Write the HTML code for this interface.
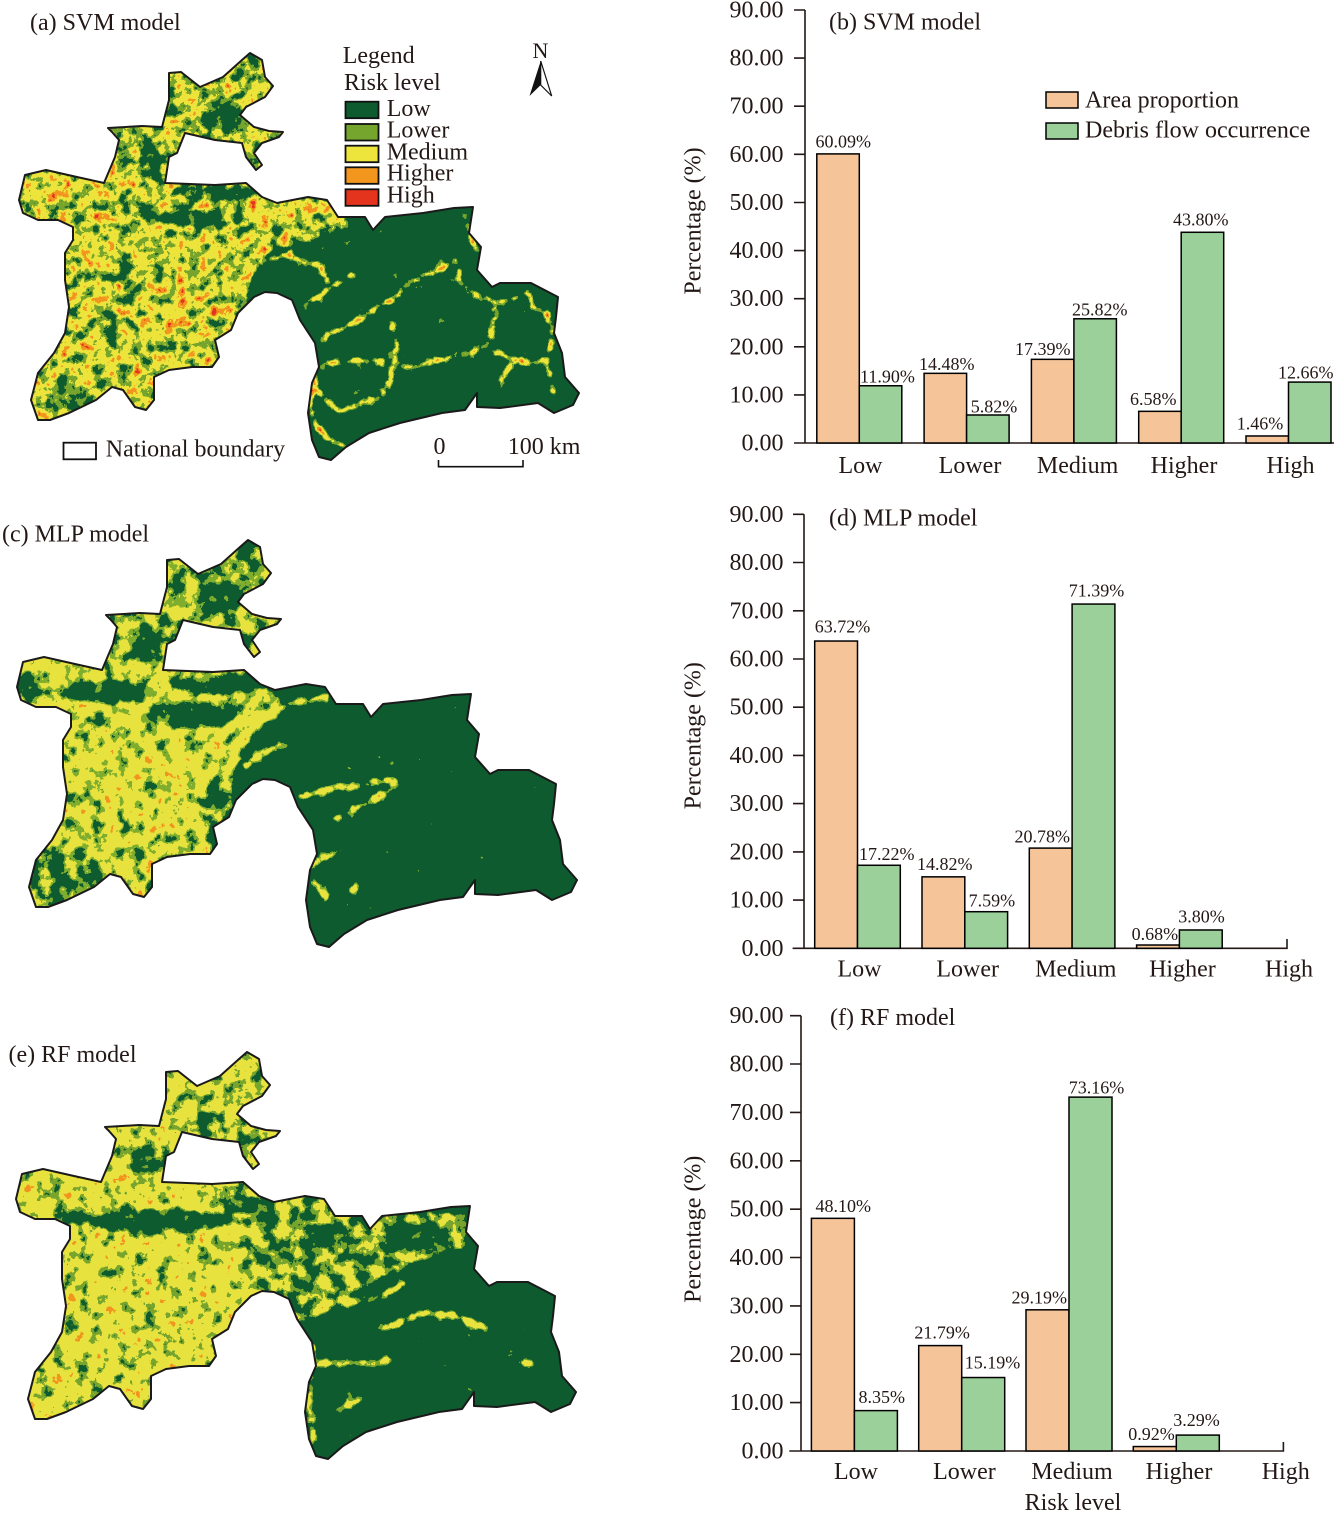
<!DOCTYPE html>
<html><head><meta charset="utf-8">
<style>
html,body{margin:0;padding:0;background:#fff;}
svg{display:block;}
text{font-family:"Liberation Serif","Times New Roman",serif;fill:#231815;}
</style></head>
<body>
<svg width="1334" height="1513" viewBox="0 0 1334 1513" xmlns="http://www.w3.org/2000/svg">
<defs>
<clipPath id="tj"><polygon points="25,175 46,170 77,177 104,183 115,157 119,140 112,132 108,128 142,126 162,127 169,100 169,73 181,72 200,87 223,77 242,60 250,53 262,60 265,77 273,86 265,97 246,107 240,115 254,127 269,131 283,132 279,137 262,143 254,153 262,165 256,170 246,157 242,143 215,140 185,133 177,153 169,157 165,183 215,185 246,183 262,197 277,203 308,197 327,200 338,217 365,217 373,230 385,217 423,213 454,208 473,207 469,233 481,247 477,270 492,287 500,283 531,283 558,297 556,317 554,333 562,353 565,377 579,393 573,405 554,413 538,403 500,408 477,407 477,393 465,410 442,413 400,423 369,433 346,447 331,460 319,457 312,440 308,413 312,383 319,367 315,343 300,320 292,300 277,293 265,292 254,297 238,313 231,330 215,340 219,357 212,367 192,367 169,370 154,377 154,400 146,410 135,407 123,390 112,387 96,400 69,413 50,420 38,420 31,400 38,373 54,353 65,333 69,307 65,280 65,253 73,240 73,227 58,220 38,220 23,213 19,200"/></clipPath>

<filter id="fa" filterUnits="userSpaceOnUse" x="0" y="30" width="600" height="450" color-interpolation-filters="sRGB">
 <feGaussianBlur in="SourceGraphic" stdDeviation="2.5" result="b"/>
 <feTurbulence type="fractalNoise" baseFrequency="0.085" numOctaves="4" seed="4" result="t"/>
 <feColorMatrix in="t" type="matrix" values="1 0 0 0 0 1 0 0 0 0 1 0 0 0 0 0 0 0 0 1" result="n"/>
 <feComposite in="n" in2="b" operator="arithmetic" k1="0" k2="1.2" k3="1" k4="-0.7"/>
 <feComponentTransfer>
  <feFuncR type="discrete" tableValues=".055 .055 .055 .055 .055 .055 .463 .463 .463 .929 .929 .929 .929 .929 .949 .949 .949 .898 .898 .898"/>
  <feFuncG type="discrete" tableValues=".357 .357 .357 .357 .357 .357 .647 .647 .647 .898 .898 .898 .898 .898 .588 .588 .588 .204 .204 .204"/>
  <feFuncB type="discrete" tableValues=".188 .188 .188 .188 .188 .188 .180 .180 .180 .235 .235 .235 .235 .235 .118 .118 .118 .118 .118 .118"/>
  <feFuncA type="discrete" tableValues="1"/>
 </feComponentTransfer>
</filter>
<filter id="fc" filterUnits="userSpaceOnUse" x="0" y="30" width="600" height="450" color-interpolation-filters="sRGB">
 <feGaussianBlur in="SourceGraphic" stdDeviation="2.5" result="b"/>
 <feTurbulence type="fractalNoise" baseFrequency="0.075" numOctaves="4" seed="9" result="t"/>
 <feColorMatrix in="t" type="matrix" values="1 0 0 0 0 1 0 0 0 0 1 0 0 0 0 0 0 0 0 1" result="n"/>
 <feComposite in="n" in2="b" operator="arithmetic" k1="0" k2="1.2" k3="1" k4="-0.7"/>
 <feComponentTransfer>
  <feFuncR type="discrete" tableValues=".055 .055 .055 .055 .055 .055 .50 .50 .50 .91 .91 .91 .91 .91 .91 .91 .91 .949 .949 .949"/>
  <feFuncG type="discrete" tableValues=".357 .357 .357 .357 .357 .357 .68 .68 .68 .89 .89 .89 .89 .89 .89 .89 .89 .588 .588 .588"/>
  <feFuncB type="discrete" tableValues=".188 .188 .188 .188 .188 .188 .18 .18 .18 .25 .25 .25 .25 .25 .25 .25 .25 .118 .118 .118"/>
  <feFuncA type="discrete" tableValues="1"/>
 </feComponentTransfer>
</filter>
<filter id="fe" filterUnits="userSpaceOnUse" x="0" y="30" width="600" height="450" color-interpolation-filters="sRGB">
 <feGaussianBlur in="SourceGraphic" stdDeviation="2.5" result="b"/>
 <feTurbulence type="fractalNoise" baseFrequency="0.075" numOctaves="4" seed="17" result="t"/>
 <feColorMatrix in="t" type="matrix" values="1 0 0 0 0 1 0 0 0 0 1 0 0 0 0 0 0 0 0 1" result="n"/>
 <feComposite in="n" in2="b" operator="arithmetic" k1="0" k2="1.2" k3="1" k4="-0.7"/>
 <feComponentTransfer>
  <feFuncR type="discrete" tableValues=".055 .055 .055 .055 .055 .055 .463 .463 .463 .91 .91 .91 .91 .91 .91 .91 .91 .949 .949 .949"/>
  <feFuncG type="discrete" tableValues=".357 .357 .357 .357 .357 .357 .647 .647 .647 .89 .89 .89 .89 .89 .89 .89 .89 .588 .588 .588"/>
  <feFuncB type="discrete" tableValues=".188 .188 .188 .188 .188 .188 .18 .18 .18 .25 .25 .25 .25 .25 .25 .25 .25 .118 .118 .118"/>
  <feFuncA type="discrete" tableValues="1"/>
 </feComponentTransfer>
</filter>
</defs>

<rect width="1334" height="1513" fill="#fff"/>

<!-- ===== MAP (a) ===== -->
<g>
 <g clip-path="url(#tj)">
  <g filter="url(#fa)">
   <rect x="0" y="30" width="600" height="450" fill="#000"/>
   <polygon points="100,40 295,40 295,190 100,190" fill="rgb(135,135,135)"/>
   <ellipse cx="222" cy="118" rx="18" ry="14" fill="rgb(51,51,51)"/>
   <ellipse cx="150" cy="165" rx="10" ry="20" fill="rgb(64,64,64)"/>
   <polygon points="0,160 110,168 165,183 260,190 300,195 345,205 350,228 300,245 270,250 255,270 248,300 242,330 222,360 200,380 170,440 0,440" fill="rgb(150,150,150)"/>
   <ellipse cx="200" cy="223" rx="50" ry="13" fill="rgb(64,64,64)"/>
   <ellipse cx="140" cy="210" rx="18" ry="8" fill="rgb(77,77,77)"/>
   <ellipse cx="215" cy="193" rx="45" ry="7" fill="rgb(51,51,51)"/>
   <ellipse cx="130" cy="275" rx="9" ry="20" fill="rgb(89,89,89)"/>
   <ellipse cx="110" cy="325" rx="8" ry="12" fill="rgb(89,89,89)"/>
   <ellipse cx="72" cy="395" rx="25" ry="18" fill="rgb(110,110,110)"/>
   <ellipse cx="180" cy="300" rx="35" ry="25" fill="rgb(168,168,168)"/>
   <ellipse cx="62" cy="192" rx="30" ry="12" fill="rgb(163,163,163)"/>
   <g fill="none" stroke="rgb(210,210,210)" stroke-width="4">
    <path d="M150,225 L215,233 L277,213 L335,210"/>
    <path d="M246,273 L269,260 L292,252"/>
    <path d="M303,307 L317,297 L330,287 L347,277 L357,273"/>
   </g>
   <g fill="none" stroke="rgb(199,199,199)" stroke-width="5" stroke-linejoin="round">
    <path d="M280,253 L300,260 L320,267 L330,283"/>
    <path d="M320,340 L337,330 L360,320 L377,307 L393,300 L410,280 L440,270 L457,260"/>
    <path d="M313,373 L330,363 L357,360 L380,363 L397,350 L393,330 L390,318"/>
    <path d="M397,350 L390,380 L380,397 L360,403 L340,413 L320,393 L313,373"/>
    <path d="M397,367 L413,367 L440,360 L467,353 L487,347 L493,327 L497,313 L493,307"/>
    <path d="M457,262 L460,283 L480,297 L497,303 L513,300 L527,290 L533,307 L547,313 L553,337 L547,357 L533,365 L513,360 L487,347"/>
    <path d="M513,360 L503,380 L500,392 M547,360 L550,380 L553,393"/>
    <path d="M313,373 L310,407 L317,427 L330,440 L347,447"/>
    <path d="M465,215 L470,235 L478,250"/>
   </g>
  </g>
 </g>
 <polygon points="25,175 46,170 77,177 104,183 115,157 119,140 112,132 108,128 142,126 162,127 169,100 169,73 181,72 200,87 223,77 242,60 250,53 262,60 265,77 273,86 265,97 246,107 240,115 254,127 269,131 283,132 279,137 262,143 254,153 262,165 256,170 246,157 242,143 215,140 185,133 177,153 169,157 165,183 215,185 246,183 262,197 277,203 308,197 327,200 338,217 365,217 373,230 385,217 423,213 454,208 473,207 469,233 481,247 477,270 492,287 500,283 531,283 558,297 556,317 554,333 562,353 565,377 579,393 573,405 554,413 538,403 500,408 477,407 477,393 465,410 442,413 400,423 369,433 346,447 331,460 319,457 312,440 308,413 312,383 319,367 315,343 300,320 292,300 277,293 265,292 254,297 238,313 231,330 215,340 219,357 212,367 192,367 169,370 154,377 154,400 146,410 135,407 123,390 112,387 96,400 69,413 50,420 38,420 31,400 38,373 54,353 65,333 69,307 65,280 65,253 73,240 73,227 58,220 38,220 23,213 19,200" fill="none" stroke="#1a1a1a" stroke-width="2" stroke-linejoin="round"/>
</g>
<text x="30" y="30" font-size="24">(a) SVM model</text>
<!-- legend -->
<text x="342.7" y="63" font-size="24">Legend</text>
<text x="344" y="90" font-size="24">Risk level</text>
<g stroke="#111" stroke-width="1.8">
 <rect x="345.5" y="101.7" width="33" height="16.5" fill="#0E5B30"/>
 <rect x="345.5" y="124" width="33" height="16.5" fill="#76A52E"/>
 <rect x="345.5" y="145.7" width="33" height="16.5" fill="#EDE53C"/>
 <rect x="345.5" y="167.3" width="33" height="16.5" fill="#F2961E"/>
 <rect x="345.5" y="189.3" width="33" height="16.5" fill="#E5341E"/>
</g>
<text x="386.7" y="116" font-size="24">Low</text>
<text x="386.7" y="137.7" font-size="24">Lower</text>
<text x="386.7" y="159.3" font-size="24">Medium</text>
<text x="386.7" y="180.7" font-size="24">Higher</text>
<text x="386.7" y="202.7" font-size="24">High</text>
<!-- north arrow -->
<text x="532.5" y="58" font-size="22">N</text>
<polygon points="540.7,61 529.5,96 540.7,85" fill="#111"/>
<polygon points="540.7,61 551.7,96 540.7,85" fill="#fff" stroke="#111" stroke-width="1.2"/>
<!-- national boundary & scale -->
<rect x="63.5" y="442.7" width="32.5" height="16.6" fill="#fff" stroke="#111" stroke-width="1.8"/>
<text x="105.8" y="456.7" font-size="24">National boundary</text>
<text x="433.5" y="454" font-size="24">0</text>
<text x="507.7" y="454" font-size="24">100 km</text>
<path d="M438.5,460 V466.7 H523 V460" fill="none" stroke="#111" stroke-width="1.6"/>

<!-- ===== MAP (c) ===== -->
<g transform="translate(-2,487)">
 <g clip-path="url(#tj)">
  <g filter="url(#fc)">
   <rect x="0" y="30" width="600" height="450" fill="#000"/>
   <polygon points="100,40 295,40 295,190 100,190" fill="rgb(128,128,128)"/>
   <ellipse cx="225" cy="110" rx="20" ry="15" fill="rgb(38,38,38)"/>
   <ellipse cx="150" cy="160" rx="12" ry="25" fill="rgb(51,51,51)"/>
   <ellipse cx="248" cy="72" rx="10" ry="12" fill="rgb(77,77,77)"/>
   <polygon points="0,160 110,168 165,183 250,190 285,212 255,250 238,280 232,330 218,360 200,380 170,440 0,440" fill="rgb(155,155,155)"/>
   <ellipse cx="160" cy="300" rx="55" ry="45" fill="rgb(170,170,170)"/>
   <ellipse cx="110" cy="205" rx="45" ry="11" fill="rgb(38,38,38)"/>
   <ellipse cx="195" cy="228" rx="45" ry="12" fill="rgb(38,38,38)"/>
   <ellipse cx="220" cy="198" rx="45" ry="9" fill="rgb(38,38,38)"/>
   <ellipse cx="30" cy="198" rx="12" ry="14" fill="rgb(77,77,77)"/>
   <ellipse cx="65" cy="388" rx="40" ry="28" fill="rgb(97,97,97)"/>
   <ellipse cx="218" cy="325" rx="14" ry="35" fill="rgb(89,89,89)"/>
   <g fill="none" stroke="rgb(179,179,179)" stroke-width="7" stroke-linejoin="round">
    <path d="M231,263 Q255,240 277,226 T331,210"/>
    <path d="M245,282 Q265,262 292,258"/>
    <path d="M300,310 Q320,305 346,300 T400,293"/>
    <path d="M335,333 Q350,325 369,316 T400,296"/>
    <path d="M308,380 Q325,370 346,363"/>
    <path d="M315,393 L331,410"/>
    <path d="M350,405 L362,395"/>
   </g>
  </g>
 </g>
 <polygon points="25,175 46,170 77,177 104,183 115,157 119,140 112,132 108,128 142,126 162,127 169,100 169,73 181,72 200,87 223,77 242,60 250,53 262,60 265,77 273,86 265,97 246,107 240,115 254,127 269,131 283,132 279,137 262,143 254,153 262,165 256,170 246,157 242,143 215,140 185,133 177,153 169,157 165,183 215,185 246,183 262,197 277,203 308,197 327,200 338,217 365,217 373,230 385,217 423,213 454,208 473,207 469,233 481,247 477,270 492,287 500,283 531,283 558,297 556,317 554,333 562,353 565,377 579,393 573,405 554,413 538,403 500,408 477,407 477,393 465,410 442,413 400,423 369,433 346,447 331,460 319,457 312,440 308,413 312,383 319,367 315,343 300,320 292,300 277,293 265,292 254,297 238,313 231,330 215,340 219,357 212,367 192,367 169,370 154,377 154,400 146,410 135,407 123,390 112,387 96,400 69,413 50,420 38,420 31,400 38,373 54,353 65,333 69,307 65,280 65,253 73,240 73,227 58,220 38,220 23,213 19,200" fill="none" stroke="#1a1a1a" stroke-width="2" stroke-linejoin="round"/>
</g>
<text x="2" y="541.7" font-size="24">(c) MLP model</text>

<!-- ===== MAP (e) ===== -->
<g transform="translate(-3,999)">
 <g clip-path="url(#tj)">
  <g filter="url(#fe)">
   <rect x="0" y="30" width="600" height="450" fill="#000"/>
   <polygon points="100,40 295,40 295,190 100,190" fill="rgb(153,153,153)"/>
   <ellipse cx="215" cy="125" rx="15" ry="12" fill="rgb(77,77,77)"/>
   <ellipse cx="150" cy="165" rx="10" ry="18" fill="rgb(89,89,89)"/>
   <polygon points="0,160 110,168 165,183 260,190 330,200 345,215 330,240 300,260 280,290 260,300 242,330 220,360 200,380 170,440 0,440" fill="rgb(168,168,168)"/>
   <polygon points="240,195 335,200 345,215 470,213 472,245 420,262 360,290 320,320 300,330 285,300 250,285" fill="rgb(118,118,118)"/>
   <ellipse cx="160" cy="222" rx="70" ry="12" fill="rgb(51,51,51)"/>
   <ellipse cx="250" cy="205" rx="30" ry="10" fill="rgb(64,64,64)"/>
   <ellipse cx="75" cy="218" rx="20" ry="8" fill="rgb(77,77,77)"/>
   <ellipse cx="330" cy="235" rx="25" ry="10" fill="rgb(64,64,64)"/>
   <ellipse cx="420" cy="235" rx="30" ry="12" fill="rgb(38,38,38)"/>
   <g fill="none" stroke="rgb(179,179,179)" stroke-width="7" stroke-linejoin="round">
    <path d="M308,314 L346,304 L385,298 L408,284"/>
    <path d="M315,364 L346,364 L377,364 L392,358"/>
    <path d="M385,331 L423,314 L462,318 L492,331"/>
    <path d="M338,411 L369,398"/>
    <path d="M519,364 L538,364"/>
    <path d="M316,345 L313,380 L312,410 L318,445"/>
   </g>
  </g>
 </g>
 <polygon points="25,175 46,170 77,177 104,183 115,157 119,140 112,132 108,128 142,126 162,127 169,100 169,73 181,72 200,87 223,77 242,60 250,53 262,60 265,77 273,86 265,97 246,107 240,115 254,127 269,131 283,132 279,137 262,143 254,153 262,165 256,170 246,157 242,143 215,140 185,133 177,153 169,157 165,183 215,185 246,183 262,197 277,203 308,197 327,200 338,217 365,217 373,230 385,217 423,213 454,208 473,207 469,233 481,247 477,270 492,287 500,283 531,283 558,297 556,317 554,333 562,353 565,377 579,393 573,405 554,413 538,403 500,408 477,407 477,393 465,410 442,413 400,423 369,433 346,447 331,460 319,457 312,440 308,413 312,383 319,367 315,343 300,320 292,300 277,293 265,292 254,297 238,313 231,330 215,340 219,357 212,367 192,367 169,370 154,377 154,400 146,410 135,407 123,390 112,387 96,400 69,413 50,420 38,420 31,400 38,373 54,353 65,333 69,307 65,280 65,253 73,240 73,227 58,220 38,220 23,213 19,200" fill="none" stroke="#1a1a1a" stroke-width="2" stroke-linejoin="round"/>
</g>
<text x="8.5" y="1062" font-size="24">(e) RF model</text>

<!-- ===== CHART (b) ===== -->
<g stroke="#231815" stroke-width="1.6" fill="none">
 <path d="M805,10 V443 M794,443 H1334"/>
 <path d="M794,10 H805 M794,58.1 H805 M794,106.2 H805 M794,154.3 H805 M794,202.5 H805 M794,250.6 H805 M794,298.7 H805 M794,346.8 H805 M794,394.9 H805"/>
</g>
<g font-size="24" text-anchor="end">
 <text x="783.5" y="17.5">90.00</text><text x="783.5" y="65.6">80.00</text><text x="783.5" y="113.7">70.00</text>
 <text x="783.5" y="161.8">60.00</text><text x="783.5" y="210">50.00</text><text x="783.5" y="258.1">40.00</text>
 <text x="783.5" y="306.2">30.00</text><text x="783.5" y="354.3">20.00</text><text x="783.5" y="402.4">10.00</text>
 <text x="783.5" y="450.5">0.00</text>
</g>
<g stroke="#000" stroke-width="1.5">
 <rect x="816.8" y="153.9" width="42.5" height="289.1" fill="#F5C498"/>
 <rect x="859.3" y="385.75" width="42.5" height="57.25" fill="#9BD09A"/>
 <rect x="924.1" y="373.34" width="42.5" height="69.66" fill="#F5C498"/>
 <rect x="966.6" y="415" width="42.5" height="28" fill="#9BD09A"/>
 <rect x="1031.4" y="359.34" width="42.5" height="83.66" fill="#F5C498"/>
 <rect x="1073.9" y="318.78" width="42.5" height="124.22" fill="#9BD09A"/>
 <rect x="1138.7" y="411.34" width="42.5" height="31.66" fill="#F5C498"/>
 <rect x="1181.2" y="232.28" width="42.5" height="210.72" fill="#9BD09A"/>
 <rect x="1246" y="435.98" width="42.5" height="7.02" fill="#F5C498"/>
 <rect x="1288.5" y="382.09" width="42.5" height="60.91" fill="#9BD09A"/>
</g>
<g font-size="18">
 <text x="815.5" y="147.3">60.09%</text>
 <text x="860" y="382.3">11.90%</text>
 <text x="919" y="370">14.48%</text>
 <text x="970.7" y="412.3">5.82%</text>
 <text x="1015" y="355">17.39%</text>
 <text x="1072" y="315.7">25.82%</text>
 <text x="1130" y="405">6.58%</text>
 <text x="1173" y="225.7">43.80%</text>
 <text x="1236.7" y="429.3">1.46%</text>
 <text x="1278" y="378.3">12.66%</text>
</g>
<g font-size="24" text-anchor="middle">
 <text x="860.5" y="473">Low</text><text x="970" y="473">Lower</text><text x="1077.6" y="473">Medium</text>
 <text x="1184" y="473">Higher</text><text x="1290.5" y="473">High</text>
</g>
<text x="829" y="29.3" font-size="24">(b) SVM model</text>
<rect x="1046" y="92" width="32" height="16" fill="#F5C498" stroke="#000" stroke-width="1.5"/>
<rect x="1046" y="123" width="32" height="16" fill="#9BD09A" stroke="#000" stroke-width="1.5"/>
<text x="1085" y="107.5" font-size="24">Area proportion</text>
<text x="1085" y="137.7" font-size="24">Debris flow occurrence</text>
<text transform="translate(700.5,221) rotate(-90)" font-size="24" text-anchor="middle">Percentage (%)</text>

<!-- ===== CHART (d) ===== -->
<g stroke="#231815" stroke-width="1.6" fill="none">
 <path d="M804,514.3 V948.3 M792.6,948.3 H1287 V939"/>
 <path d="M793,514.3 H804 M793,562.5 H804 M793,610.8 H804 M793,659 H804 M793,707.2 H804 M793,755.4 H804 M793,803.6 H804 M793,851.9 H804 M793,900.1 H804"/>
</g>
<g font-size="24" text-anchor="end">
 <text x="783.5" y="521.8">90.00</text><text x="783.5" y="570">80.00</text><text x="783.5" y="618.3">70.00</text>
 <text x="783.5" y="666.5">60.00</text><text x="783.5" y="714.7">50.00</text><text x="783.5" y="762.9">40.00</text>
 <text x="783.5" y="811.1">30.00</text><text x="783.5" y="859.4">20.00</text><text x="783.5" y="907.6">10.00</text>
 <text x="783.5" y="955.8">0.00</text>
</g>
<g stroke="#000" stroke-width="1.5">
 <rect x="814.7" y="641.04" width="42.8" height="307.26" fill="#F5C498"/>
 <rect x="857.5" y="865.27" width="42.8" height="83.03" fill="#9BD09A"/>
 <rect x="922" y="876.84" width="42.8" height="71.46" fill="#F5C498"/>
 <rect x="964.8" y="911.7" width="42.8" height="36.6" fill="#9BD09A"/>
 <rect x="1029.3" y="848.1" width="42.8" height="100.2" fill="#F5C498"/>
 <rect x="1072.1" y="604.06" width="42.8" height="344.24" fill="#9BD09A"/>
 <rect x="1136.6" y="945.02" width="42.8" height="3.28" fill="#F5C498"/>
 <rect x="1179.4" y="929.98" width="42.8" height="18.32" fill="#9BD09A"/>
</g>
<g font-size="18">
 <text x="814.7" y="632.3">63.72%</text>
 <text x="859" y="860">17.22%</text>
 <text x="917" y="870">14.82%</text>
 <text x="968.6" y="906.7">7.59%</text>
 <text x="1014.5" y="842.3">20.78%</text>
 <text x="1068.7" y="596.7">71.39%</text>
 <text x="1131.6" y="940">0.68%</text>
 <text x="1178.3" y="922.7">3.80%</text>
</g>
<g font-size="24" text-anchor="middle">
 <text x="859.5" y="976.7">Low</text><text x="967.7" y="976.7">Lower</text><text x="1075.8" y="976.7">Medium</text>
 <text x="1182.4" y="976.7">Higher</text><text x="1289" y="976.7">High</text>
</g>
<text x="829" y="525.7" font-size="24">(d) MLP model</text>
<text transform="translate(700.5,735.7) rotate(-90)" font-size="24" text-anchor="middle">Percentage (%)</text>

<!-- ===== CHART (f) ===== -->
<g stroke="#231815" stroke-width="1.6" fill="none">
 <path d="M801,1015.7 V1451 M789.3,1451 H1283.4 V1442"/>
 <path d="M790,1015.7 H801 M790,1064 H801 M790,1112.4 H801 M790,1160.8 H801 M790,1209.2 H801 M790,1257.5 H801 M790,1305.9 H801 M790,1354.3 H801 M790,1402.6 H801"/>
</g>
<g font-size="24" text-anchor="end">
 <text x="783.5" y="1023.2">90.00</text><text x="783.5" y="1071.5">80.00</text><text x="783.5" y="1119.9">70.00</text>
 <text x="783.5" y="1168.3">60.00</text><text x="783.5" y="1216.7">50.00</text><text x="783.5" y="1265">40.00</text>
 <text x="783.5" y="1313.4">30.00</text><text x="783.5" y="1361.8">20.00</text><text x="783.5" y="1410.1">10.00</text>
 <text x="783.5" y="1458.5">0.00</text>
</g>
<g stroke="#000" stroke-width="1.5">
 <rect x="811.4" y="1218.34" width="43" height="232.66" fill="#F5C498"/>
 <rect x="854.4" y="1410.61" width="43" height="40.39" fill="#9BD09A"/>
 <rect x="918.7" y="1345.6" width="43" height="105.4" fill="#F5C498"/>
 <rect x="961.7" y="1377.53" width="43" height="73.47" fill="#9BD09A"/>
 <rect x="1026" y="1309.81" width="43" height="141.19" fill="#F5C498"/>
 <rect x="1069" y="1097.13" width="43" height="353.87" fill="#9BD09A"/>
 <rect x="1133.3" y="1446.55" width="43" height="4.45" fill="#F5C498"/>
 <rect x="1176.3" y="1435.09" width="43" height="15.91" fill="#9BD09A"/>
</g>
<g font-size="18">
 <text x="815.5" y="1212">48.10%</text>
 <text x="858.5" y="1403">8.35%</text>
 <text x="914.4" y="1338.3">21.79%</text>
 <text x="964.8" y="1368.3">15.19%</text>
 <text x="1011.5" y="1303.3">29.19%</text>
 <text x="1068.7" y="1093.3">73.16%</text>
 <text x="1128.3" y="1440">0.92%</text>
 <text x="1173.3" y="1426">3.29%</text>
</g>
<g font-size="24" text-anchor="middle">
 <text x="856" y="1479">Low</text><text x="964.4" y="1479">Lower</text><text x="1072" y="1479">Medium</text>
 <text x="1179" y="1479">Higher</text><text x="1285.7" y="1479">High</text>
</g>
<text x="1073" y="1510" font-size="24" text-anchor="middle">Risk level</text>
<text x="830" y="1025" font-size="24">(f) RF model</text>
<text transform="translate(700.5,1229.2) rotate(-90)" font-size="24" text-anchor="middle">Percentage (%)</text>
</svg>
</body></html>
